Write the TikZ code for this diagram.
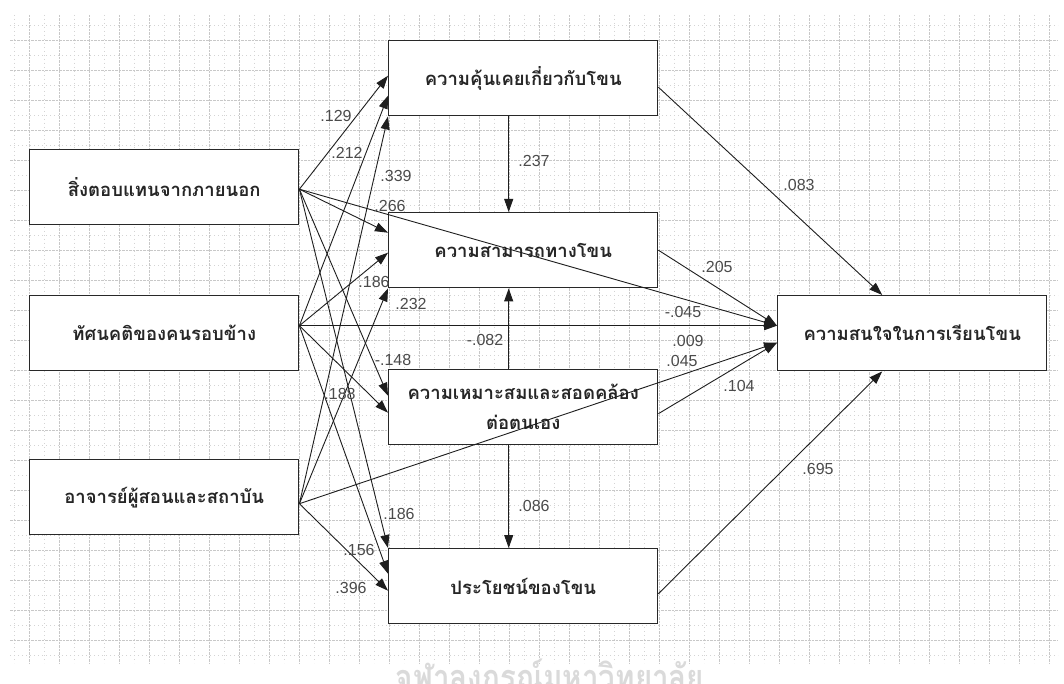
\documentclass[tikz,border=0pt]{standalone}
\usepackage{fontspec}
\setmainfont{Liberation Sans}
\newfontfamily\thaifont[Script=Thai]{Loma}
\usetikzlibrary{arrows.meta}
\definecolor{gridmaj}{RGB}{200,200,200}
\definecolor{gridmin}{RGB}{212,212,212}
\definecolor{boxline}{RGB}{40,40,40}
\definecolor{arrline}{RGB}{30,30,30}
\definecolor{lbl}{RGB}{75,75,75}
\definecolor{wmark}{RGB}{218,218,218}
\tikzset{
  majorgrid/.style={draw=gridmaj, line width=0.5pt, dash pattern=on 2.5pt off 1pt},
  minorgrid/.style={draw=gridmin, line width=0.5pt, dash pattern=on 0.8pt off 3.2pt},
  var/.style={draw=boxline, line width=1.4pt, fill=white, rectangle, anchor=north west,
    minimum width=269pt, minimum height=75pt, inner sep=0pt, align=center,
    font=\thaifont\bfseries\fontsize{18.5}{30}\selectfont, text=black!85},
  path/.style={draw=arrline, line width=0.9pt, -{Triangle[length=13pt,width=9pt]}},
  coef/.style={font=\fontsize{16}{18}\selectfont, text=lbl, inner sep=0pt}
}
\begin{document}
\begin{tikzpicture}[x=1pt,y=-1pt]
\useasboundingbox (0,0) rectangle (1064,684);
\clip (0,0) rectangle (1064,684);
\fill[white] (0,0) rectangle (1064,684);
% grid
\foreach \xx in {14.3,44.3,...,1050} \draw[minorgrid] (\xx,15) -- (\xx,663);
\foreach \yy in {25,55,...,660} \draw[minorgrid] (10,\yy) -- (1058,\yy);
\foreach \xx in {29.3,59.3,...,1050} \draw[majorgrid] (\xx,15) -- (\xx,663);
\foreach \yy in {40,70,...,660} \draw[majorgrid] (10,\yy) -- (1058,\yy);
% watermark
\node[font=\thaifont\bfseries\fontsize{36}{38}\selectfont, text=wmark, inner sep=0pt, xscale=0.82] (wm) at (550,679) {จุฬาลงกรณ์มหาวิทยาลัย};
% boxes
\node[var] (A) at (29,149) {สิ่งตอบแทนจากภายนอก};
\node[var] (B) at (29,295) {ทัศนคติของคนรอบข้าง};
\node[var] (C) at (29,459) {อาจารย์ผู้สอนและสถาบัน};
\node[var] (D) at (388,40) {ความคุ้นเคยเกี่ยวกับโขน};
\node[var] (E) at (388,212) {ความสามารถทางโขน};
\node[var] (F) at (388,369) {ความเหมาะสมและสอดคล้อง\\ต่อตนเอง};
\node[var] (G) at (388,548) {ประโยชน์ของโขน};
\node[var] (H) at (777,295) {ความสนใจในการเรียนโขน};
% connectors
\draw[path] ([yshift=-2pt]A.east) -- ([yshift=2.5pt]D.west);
\draw[path] ([yshift=7.5pt]B.east) -- ([yshift=-17.5pt]D.west);
\draw[path] ([yshift=-6.5pt]C.east) -- (D.south west);
\draw[path] ([yshift=-2pt]A.east) -- ([yshift=17.5pt]E.west);
\draw[path] ([yshift=7.5pt]B.east) -- ([yshift=-2.5pt]E.west);
\draw[path] ([yshift=-6.5pt]C.east) -- (E.south west);
\draw[path] ([yshift=-2pt]A.east) -- ([yshift=11.5pt]F.west);
\draw[path] ([yshift=7.5pt]B.east) -- ([yshift=-5.5pt]F.west);
\draw[path] ([yshift=-2pt]A.east) -- (G.north west);
\draw[path] ([yshift=7.5pt]B.east) -- ([yshift=12.5pt]G.west);
\draw[path] ([yshift=-6.5pt]C.east) -- ([yshift=-4.5pt]G.west);
\draw[path] ([xshift=-14.5pt]D.south) -- ([xshift=-14.5pt]E.north);
\draw[path] ([xshift=-14.5pt]F.north) -- ([xshift=-14.5pt]E.south);
\draw[path] ([xshift=-14.5pt]F.south) -- ([xshift=-14.5pt]G.north);
\draw[path] ([yshift=-9pt]D.east) -- ([xshift=-30pt]H.north);
\draw[path] (E.east) -- ([yshift=7.5pt]H.west);
\draw[path] ([yshift=-2pt]A.east) -- ([yshift=7.5pt]H.west);
\draw[path] ([yshift=7.5pt]B.east) -- ([yshift=7.5pt]H.west);
\draw[path] ([yshift=-6.5pt]C.east) -- ([yshift=-9.5pt]H.west);
\draw[path] ([yshift=-6.5pt]F.east) -- ([yshift=-9.5pt]H.west);
\draw[path] ([yshift=-7.5pt]G.east) -- ([xshift=-30pt]H.south);
% coefficients
\node[coef] (l1) at (336,116) {.129};
\node[coef] (l2) at (347,153) {.212};
\node[coef] (l3) at (396,176) {.339};
\node[coef] (l4) at (390,206) {.266};
\node[coef] (l5) at (374,282) {.186};
\node[coef] (l6) at (411,304) {.232};
\node[coef] (l7) at (485,340) {-.082};
\node[coef] (l8) at (393,360) {-.148};
\node[coef] (l9) at (340,394) {.188};
\node[coef] (l10) at (399,514) {.186};
\node[coef] (l11) at (359,550) {.156};
\node[coef] (l12) at (351,588) {.396};
\node[coef] (l13) at (534,161) {.237};
\node[coef] (l14) at (534,506) {.086};
\node[coef] (l15) at (799,185) {.083};
\node[coef] (l16) at (717,267) {.205};
\node[coef] (l17) at (683,312) {-.045};
\node[coef] (l18) at (688,341) {.009};
\node[coef] (l19) at (682,361) {.045};
\node[coef] (l20) at (739,386) {.104};
\node[coef] (l21) at (818,469) {.695};
\end{tikzpicture}
\end{document}
